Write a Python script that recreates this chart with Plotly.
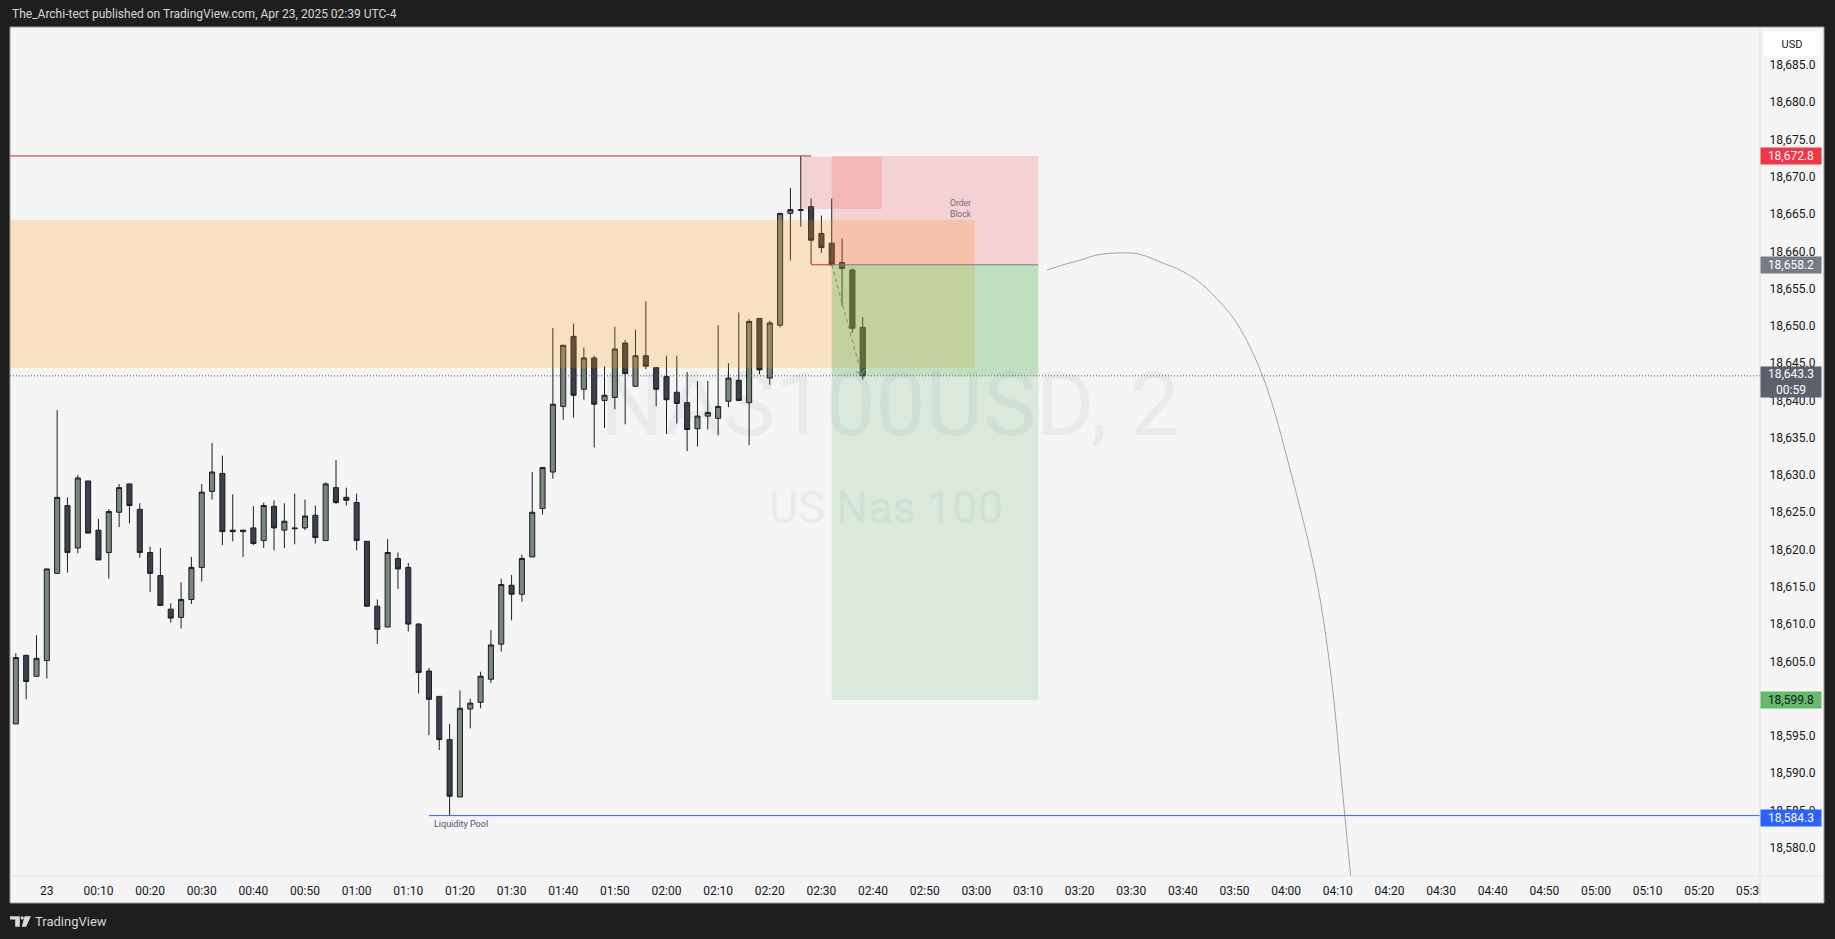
import plotly.graph_objects as go

# ---------------- data ----------------
header_text = "The_Archi-tect published on TradingView.com, Apr 23, 2025 02:39 UTC-4"
symbol_text = "NAS100USD, 2"
desc_text = "US Nas 100"

# bar time = minutes after 00:00 (Apr 23), 2-minute bars
bar_time = [-6, -4, -2, 0, 2, 4, 6, 8, 10, 12, 14, 16, 18, 20, 22, 24, 26, 28, 30, 32,
            34, 36, 38, 40, 42, 44, 46, 48, 50, 52, 54, 56, 58, 60, 62, 64, 66, 68, 70, 72,
            74, 76, 78, 80, 82, 84, 86, 88, 90, 92, 94, 96, 98, 100, 102, 104, 106, 108, 110, 112,
            114, 116, 118, 120, 122, 124, 126, 128, 130, 132, 134, 136, 138, 140, 142, 144, 146, 148, 150, 152,
            154, 156, 158]
opens = [18596.6, 18605.8, 18603.0, 18605.1, 18616.8, 18625.9, 18620.2, 18629.2, 18622.6, 18619.6,
         18625.0, 18628.8, 18625.4, 18619.6, 18616.5, 18612.0, 18610.9, 18613.3, 18617.6, 18627.8,
         18630.2, 18622.6, 18622.6, 18622.9, 18621.2, 18625.8, 18622.6, 18622.9, 18622.9, 18624.6,
         18621.2, 18628.3, 18627.0, 18626.3, 18621.1, 18612.4, 18609.6, 18618.8, 18617.6, 18610.0,
         18603.7, 18600.3, 18594.5, 18586.8, 18598.6, 18599.5, 18602.6, 18607.3, 18615.2, 18614.0,
         18619.0, 18625.5, 18630.4, 18639.2, 18648.6, 18641.5, 18645.7, 18640.0, 18640.4, 18647.7,
         18641.9, 18646.0, 18644.4, 18643.2, 18641.1, 18639.7, 18636.2, 18637.9, 18637.6, 18639.9,
         18642.7, 18639.7, 18651.0, 18643.0, 18650.1, 18665.1, 18665.6, 18666.0, 18662.4, 18661.1,
         18658.5, 18657.5, 18649.8]
highs = [18606.1, 18605.9, 18608.5, 18617.4, 18638.7, 18627.0, 18630.0, 18629.2, 18624.1, 18625.4,
         18628.8, 18628.8, 18626.2, 18620.4, 18620.2, 18612.8, 18615.6, 18619.0, 18628.8, 18634.3,
         18632.6, 18627.4, 18622.6, 18625.8, 18626.3, 18626.6, 18626.2, 18627.5, 18626.7, 18625.9,
         18629.0, 18632.0, 18628.3, 18627.5, 18621.1, 18613.3, 18621.4, 18619.6, 18618.2, 18610.1,
         18604.1, 18600.3, 18596.6, 18601.1, 18600.0, 18603.6, 18609.2, 18616.1, 18616.6, 18619.3,
         18630.4, 18631.0, 18649.7, 18647.4, 18650.3, 18647.1, 18646.0, 18644.6, 18649.9, 18648.1,
         18649.5, 18653.3, 18644.4, 18646.0, 18646.0, 18643.8, 18642.6, 18642.6, 18650.1, 18645.0,
         18651.8, 18650.9, 18651.0, 18650.7, 18665.1, 18668.5, 18672.8, 18667.1, 18664.8, 18667.1,
         18661.7, 18657.7, 18651.2]
lows = [18596.6, 18599.9, 18602.9, 18602.7, 18616.8, 18616.9, 18619.5, 18622.2, 18618.6, 18616.1,
        18623.0, 18623.5, 18618.9, 18614.3, 18612.5, 18610.2, 18609.4, 18612.7, 18615.7, 18626.7,
        18620.6, 18621.1, 18619.0, 18620.6, 18620.2, 18619.9, 18620.2, 18620.7, 18622.6, 18620.8,
        18621.2, 18626.1, 18625.9, 18619.9, 18612.3, 18607.3, 18609.6, 18614.7, 18609.0, 18600.7,
        18595.1, 18593.1, 18584.3, 18586.8, 18596.0, 18598.7, 18602.1, 18606.3, 18610.5, 18613.0,
        18619.0, 18624.7, 18629.5, 18637.4, 18637.7, 18640.1, 18633.7, 18636.3, 18638.8, 18636.8,
        18641.9, 18644.2, 18639.2, 18635.5, 18636.9, 18633.2, 18633.8, 18636.1, 18635.3, 18639.1,
        18640.0, 18634.0, 18643.5, 18642.1, 18649.8, 18658.8, 18663.3, 18658.3, 18659.8, 18658.2,
        18652.7, 18649.1, 18642.8]
closes = [18605.5, 18602.3, 18605.4, 18617.4, 18627.0, 18619.6, 18629.6, 18622.2, 18618.6, 18625.1,
          18628.3, 18625.9, 18619.6, 18616.8, 18612.5, 18610.8, 18613.3, 18617.6, 18627.7, 18630.4,
          18622.4, 18622.4, 18622.4, 18620.8, 18625.9, 18622.9, 18623.8, 18622.8, 18624.5, 18621.6,
          18628.8, 18626.3, 18626.6, 18621.2, 18612.4, 18609.3, 18619.6, 18617.4, 18610.0, 18603.5,
          18599.9, 18594.5, 18586.9, 18598.7, 18599.4, 18603.0, 18607.2, 18615.3, 18614.0, 18618.8,
          18625.0, 18631.0, 18639.5, 18647.4, 18640.7, 18645.7, 18639.5, 18640.7, 18646.9, 18643.6,
          18646.0, 18644.6, 18641.5, 18640.1, 18639.6, 18636.1, 18637.9, 18638.4, 18639.2, 18643.0,
          18640.0, 18650.6, 18644.1, 18650.4, 18665.1, 18665.6, 18665.5, 18661.5, 18660.5, 18658.2,
          18657.7, 18649.7, 18643.3]

time_tick_vals = [0, 10, 20, 30, 40, 50, 60, 70, 80, 90, 100, 110, 120, 130, 140, 150, 160,
                  170, 180, 190, 200, 210, 220, 230, 240, 250, 260, 270, 280, 290, 300, 310, 320, 330]
time_tick_text = ["23", "00:10", "00:20", "00:30", "00:40", "00:50", "01:00", "01:10", "01:20",
                  "01:30", "01:40", "01:50", "02:00", "02:10", "02:20", "02:30", "02:40", "02:50",
                  "03:00", "03:10", "03:20", "03:30", "03:40", "03:50", "04:00", "04:10", "04:20",
                  "04:30", "04:40", "04:50", "05:00", "05:10", "05:20", "05:30"]
price_tick_vals = [18580.0, 18585.0, 18590.0, 18595.0, 18600.0, 18605.0, 18610.0, 18615.0,
                   18620.0, 18625.0, 18630.0, 18635.0, 18640.0, 18645.0, 18650.0, 18655.0,
                   18660.0, 18665.0, 18670.0, 18675.0, 18680.0, 18685.0]

x_range = [-7.13, 331.76]
y_range = [18576.2, 18690.1]

# drawings
high_level = 18672.8
high_line_end = 148
ob_top, ob_bottom, ob_end = 18664.2, 18644.4, 179.7
fvg_top, fvg_bottom, fvg_start, fvg_end = 18672.7, 18665.7, 146, 161.7
pos_start, pos_end = 152, 192
pos_entry, pos_stop, pos_target = 18658.2, 18672.8, 18599.8
last_price, countdown = 18643.3, "00:59"
liq_level, liq_start = 18584.3, 74
arrow_t = [152, 157.8]
arrow_p = [18658.2, 18643.4]
curve_t = [193.7, 196.8, 200.0, 203.3, 207.8, 211.7, 216.2, 218.8, 222.6, 226.5, 230.4,
           235.5, 241.3, 245.9, 248.8, 250.7, 252.5, 253.5]
curve_p = [18657.5, 18658.2, 18658.8, 18659.5, 18659.8, 18659.6, 18658.4, 18657.7, 18656.2,
           18653.7, 18650.4, 18643.2, 18629.3, 18615.9, 18602.5, 18589.1, 18576.2, 18570.0]

# ---------------- geometry helpers (pixel -> paper) ----------------
W, H = 1835, 939
ML, MR, MT, MB = 10, 75, 27, 63
PW, PH = W - ML - MR, H - MT - MB


def px(x):
    return (x - ML) / PW


def py(y):
    return (H - MB - y) / PH


FONT = "Roboto, Arial, sans-serif"
TXT = "#131722"

fig = go.Figure()

fig.add_trace(go.Scatter(x=curve_t, y=curve_p, mode="lines",
                         line=dict(color="#a3a3a3", width=1, shape="spline", smoothing=1),
                         hoverinfo="skip", showlegend=False))

fig.add_trace(go.Candlestick(
    x=bar_time, open=opens, high=highs, low=lows, close=closes,
    increasing=dict(fillcolor="#7a887a", line=dict(color="#1b1e24", width=1)),
    decreasing=dict(fillcolor="#3d404b", line=dict(color="#1b1e24", width=1)),
    whiskerwidth=0, hoverinfo="skip", showlegend=False))

fig.add_trace(go.Scatter(x=arrow_t, y=arrow_p, mode="lines+markers",
                         line=dict(color="#8b8f99", width=1.2, dash="4px,3px"),
                         marker=dict(symbol=["circle", "arrow-wide-open"], size=[0, 7],
                                     angleref="previous", color="#8b8f99",
                                     line=dict(color="#8b8f99", width=1)),
                         hoverinfo="skip", showlegend=False))

shapes = []
# widget background
shapes.append(dict(type="rect", xref="paper", yref="paper", x0=0, x1=px(1824), y0=py(903), y1=1,
                   fillcolor="#f5f5f5", line=dict(width=0), layer="below"))
# watermark
shapes.append(dict(type="rect", xref="paper", yref="paper", x0=px(890) - 0.2, x1=px(890) + 0.2,
                   y0=py(398) - 0.05, y1=py(398) + 0.05, line=dict(width=0),
                   fillcolor="rgba(0,0,0,0)", layer="below",
                   label=dict(text=symbol_text, textposition="middle center",
                              font=dict(family=FONT, size=89, color="#eaeaed"))))
shapes.append(dict(type="rect", xref="paper", yref="paper", x0=px(886) - 0.2, x1=px(886) + 0.2,
                   y0=py(504) - 0.03, y1=py(504) + 0.03, line=dict(width=0),
                   fillcolor="rgba(0,0,0,0)", layer="below",
                   label=dict(text=desc_text, textposition="middle center",
                              font=dict(family=FONT, size=45, color="#eaeaed"))))

# order block zone
shapes.append(dict(type="rect", xref="x", yref="y", x0=x_range[0] - 5, x1=ob_end,
                   y0=ob_bottom, y1=ob_top, fillcolor="rgba(255,152,0,0.21)",
                   line=dict(width=0), layer="above"))
# position tool
shapes.append(dict(type="rect", xref="x", yref="y", x0=pos_start, x1=pos_end,
                   y0=pos_entry, y1=pos_stop, fillcolor="rgba(242,54,69,0.18)",
                   line=dict(width=0), layer="above"))
shapes.append(dict(type="rect", xref="x", yref="y", x0=pos_start, x1=pos_end,
                   y0=pos_target, y1=pos_entry, fillcolor="rgba(76,175,80,0.155)",
                   line=dict(width=0), layer="above"))
shapes.append(dict(type="rect", xref="x", yref="y", x0=pos_start, x1=pos_end,
                   y0=last_price, y1=pos_entry, fillcolor="rgba(76,175,80,0.18)",
                   line=dict(width=0), layer="above"))
# small FVG box
shapes.append(dict(type="rect", xref="x", yref="y", x0=fvg_start, x1=fvg_end,
                   y0=fvg_bottom, y1=fvg_top, fillcolor="rgba(242,54,69,0.18)",
                   line=dict(width=0), layer="above"))
# lines
shapes.append(dict(type="line", xref="x", yref="y", x0=x_range[0] - 5, x1=high_line_end,
                   y0=high_level, y1=high_level, line=dict(color="#b2282e", width=1), layer="above"))
shapes.append(dict(type="line", xref="x", yref="y", x0=high_line_end, x1=pos_start,
                   y0=pos_entry, y1=pos_entry, line=dict(color="#d32f2f", width=1), layer="above"))
shapes.append(dict(type="line", xref="x", yref="y", x0=pos_start, x1=pos_end,
                   y0=pos_entry, y1=pos_entry, line=dict(color="#787b86", width=1), layer="above"))
shapes.append(dict(type="line", xref="x", yref="y", x0=liq_start, x1=x_range[1] + 5,
                   y0=liq_level, y1=liq_level, line=dict(color="#2962ff", width=1), layer="above"))
shapes.append(dict(type="line", xref="paper", yref="y", x0=0, x1=1,
                   y0=last_price, y1=last_price, line=dict(color="#4a4d57", width=1, dash="1px,2px"),
                   layer="above"))
# corner cover + separators + border
shapes.append(dict(type="rect", xref="paper", yref="paper", x0=1, x1=px(1824), y0=py(903), y1=0,
                   fillcolor="#f5f5f5", line=dict(width=0), layer="above"))
shapes.append(dict(type="line", xref="paper", yref="paper", x0=1, x1=1, y0=py(903), y1=1,
                   line=dict(color="#e0e3eb", width=1), layer="above"))
shapes.append(dict(type="line", xref="paper", yref="paper", x0=0, x1=px(1824), y0=0, y1=0,
                   line=dict(color="#e0e3eb", width=1), layer="above"))
shapes.append(dict(type="rect", xref="paper", yref="paper", x0=0, x1=px(1824), y0=py(903), y1=1,
                   fillcolor="rgba(0,0,0,0)", line=dict(color="#9a9a9a", width=1), layer="above"))

# TradingView logo glyph (footer)
def path(points):
    d = "M " + " L ".join(f"{px(a):.5f},{py(b):.5f}" for a, b in points) + " Z"
    return d


LOGO = "#d9d9d9"
shapes.append(dict(type="path", xref="paper", yref="paper",
                   path=path([(10, 916.2), (19.8, 916.2), (19.8, 926.8), (15.2, 926.8), (15.2, 919.6), (10, 919.6)]),
                   fillcolor=LOGO, line=dict(width=0), layer="above"))
shapes.append(dict(type="circle", xref="paper", yref="paper", x0=px(20.6), x1=px(23.8),
                   y0=py(919.6), y1=py(916.2), fillcolor=LOGO, line=dict(width=0), layer="above"))
shapes.append(dict(type="path", xref="paper", yref="paper",
                   path=path([(24.6, 916.2), (30.8, 916.2), (26.2, 926.8), (21.8, 926.8)]),
                   fillcolor=LOGO, line=dict(width=0), layer="above"))

annotations = []
annotations.append(dict(xref="paper", yref="paper", x=0, y=py(14), xanchor="left", yanchor="middle",
                        text=header_text, showarrow=False,
                        font=dict(family=FONT, size=12, color="#d9d9d9")))
annotations.append(dict(xref="paper", yref="paper", x=px(33), y=py(921.7), xanchor="left",
                        yanchor="middle", text="TradingView", showarrow=False,
                        font=dict(family=FONT, size=13, color="#d9d9d9")))
annotations.append(dict(xref="x", yref="y", x=ob_end, y=18665.8, xanchor="right", yanchor="middle",
                        text="Order<br>Block", showarrow=False, align="center", xshift=-1,
                        font=dict(family=FONT, size=8.5, color="#76697a")))
annotations.append(dict(xref="x", yref="y", x=liq_start, y=18583.2, xanchor="left", yanchor="middle",
                        text="Liquidity Pool", showarrow=False, xshift=3,
                        font=dict(family=FONT, size=9, color="#50535e")))
annotations.append(dict(xref="paper", yref="paper", x=px(1792), y=py(43.7), xanchor="center",
                        yanchor="middle", text="USD", showarrow=False, bgcolor="#ffffff",
                        width=54, height=22, font=dict(family=FONT, size=11, color=TXT)))


def price_label(price, text, bg, fg, height=16, yshift=0):
    annotations.append(dict(xref="paper", yref="y", x=1, y=price, xanchor="left", yanchor="middle",
                            text=text, showarrow=False, bgcolor=bg, width=60, height=height,
                            borderpad=0, yshift=yshift, align="center",
                            font=dict(family=FONT, size=12, color=fg)))


price_label(pos_stop, f"{pos_stop:,.1f}", "#f23645", "#ffffff")
price_label(pos_entry, f"{pos_entry:,.1f}", "#787b86", "#ffffff")
price_label(last_price, f"{last_price:,.1f}<br>{countdown}", "#5d606b", "#ffffff", height=30, yshift=-6.5)
price_label(pos_target, f"{pos_target:,.1f}", "#66bb6a", TXT)
price_label(liq_level, f"{liq_level:,.1f}", "#2962ff", "#ffffff", yshift=-2)

fig.update_layout(
    template="none",
    width=W, height=H, autosize=False,
    margin=dict(l=ML, r=MR, t=MT, b=MB, pad=0),
    paper_bgcolor="#1e1e1e", plot_bgcolor="#f5f5f5",
    showlegend=False,
    boxgap=0.3, boxgroupgap=0.3,
    shapes=shapes, annotations=annotations,
    xaxis=dict(range=x_range, showgrid=False, zeroline=False, showline=False,
               tickmode="array", tickvals=time_tick_vals, ticktext=time_tick_text,
               ticks="outside", ticklen=4, tickcolor="rgba(0,0,0,0)",
               tickfont=dict(family=FONT, size=12, color=TXT),
               rangeslider=dict(visible=False), automargin=False, fixedrange=True),
    yaxis=dict(range=y_range, side="right", showgrid=False, zeroline=False, showline=False,
               tickmode="array", tickvals=price_tick_vals, tickformat=",.1f",
               ticks="outside", ticklen=6, tickcolor="rgba(0,0,0,0)",
               tickfont=dict(family=FONT, size=12, color=TXT),
               automargin=False, fixedrange=True),
)

fig.write_html("out.html", config={"displayModeBar": False, "responsive": False},
               post_script="document.body.style.margin='0px';document.body.style.overflow='hidden';"
                           "document.body.style.background='#1e1e1e';")
